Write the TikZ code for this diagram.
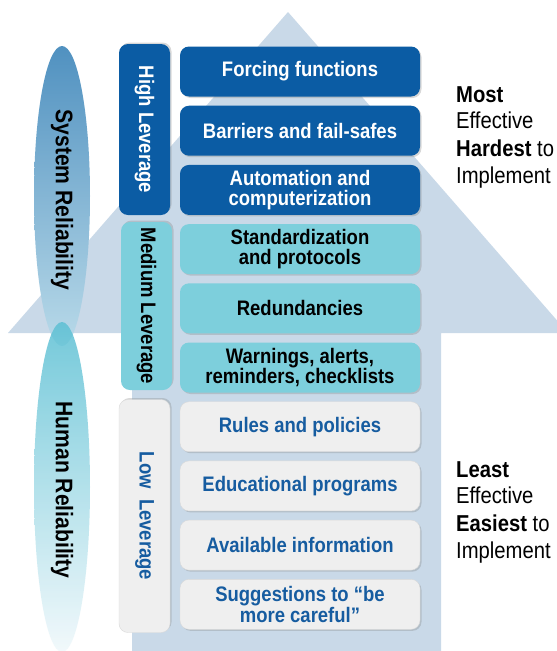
\documentclass[tikz,border=0pt]{standalone}
\usepackage{fontspec}
\setmainfont{Liberation Sans}[FakeStretch=0.88]
\usepackage{tikz}
\usetikzlibrary{positioning,shadows}
\usepackage{xcolor}
\definecolor{lvdark}{RGB}{11,92,164}
\definecolor{lvteal}{RGB}{125,207,220}
\definecolor{lvgray}{RGB}{239,239,239}
\definecolor{lvtext}{RGB}{22,92,160}
\definecolor{lvback}{RGB}{201,217,232}
\definecolor{sysTop}{RGB}{80,145,192}
\definecolor{sysBot}{RGB}{185,218,233}
\definecolor{humTop}{RGB}{92,192,212}
\definecolor{humBot}{RGB}{240,248,251}
\tikzstyle{tier} = [rectangle, rounded corners=9pt, minimum width=240pt, minimum height=50pt, text centered, align=center, font=\bfseries\fontsize{21}{20.5}\selectfont, drop shadow={shadow xshift=1.5pt, shadow yshift=-1.5pt, opacity=0.3}]
\tikzstyle{hightier} = [tier, fill=lvdark, text=white]
\tikzstyle{medtier} = [tier, fill=lvteal, text=black]
\tikzstyle{lowtier} = [tier, fill=lvgray, draw=black!15, text=lvtext]
\tikzstyle{lever} = [rectangle, rounded corners=9pt, rotate=-90, minimum height=51pt, text centered, font=\bfseries\fontsize{21}{21}\selectfont, drop shadow={shadow xshift=1.5pt, shadow yshift=1.5pt, opacity=0.3}]
\tikzstyle{reliab} = [rotate=-90, font=\bfseries\fontsize{24}{24}\selectfont]
\tikzstyle{sidebold} = [anchor=base west, inner sep=0pt, font=\bfseries\fontsize{23}{23}\selectfont]
\tikzstyle{sidelight} = [anchor=base west, inner sep=0pt, font=\fontsize{23}{23}\selectfont]

\begin{document}
\begin{tikzpicture}[x=1pt, y=-1pt, node distance=59.2pt]
\clip (0,0) rectangle (557,651);
\fill[white] (0,0) rectangle (557,651);

% Background arrow
\fill[lvback] (288,12) -- (568,333) -- (441,333) -- (441,651) -- (132,651) -- (132,333) -- (8,333) -- cycle;

% Reliability ellipses
\shade[top color=sysTop, bottom color=sysBot] (62,196) ellipse (28pt and 150pt);
\shade[top color=humTop, bottom color=humBot, opacity=0.85] (62,487) ellipse (28pt and 165pt);
\node (sysrel) [reliab] at (62,200) {System Reliability};
\node (humrel) [reliab] at (62,490) {Human Reliability};

% Leverage columns
\node (high) [lever, fill=lvdark, text=white, minimum width=171pt] at (144.5,129.5) {High Leverage};
\node (medium) [lever, fill=lvteal, text=black, minimum width=168pt] at (146.5,306) {Medium Leverage};
\node (low) [lever, fill=lvgray, draw=black!15, text=lvtext, minimum width=233pt] at (144.5,516) {Low~~Leverage};

% High leverage actions
\node (forcing) [hightier] at (300,71.5) {Forcing functions};
\node (barriers) [hightier, below of=forcing] {Barriers and fail-safes};
\node (automation) [hightier, below of=barriers] {Automation and\\computerization};

% Medium leverage actions
\node (standard) [medtier, below of=automation] {Standardization\\and protocols};
\node (redund) [medtier, below of=standard] {Redundancies};
\node (warnings) [medtier, below of=redund] {Warnings, alerts,\\reminders, checklists};

% Low leverage actions
\node (rules) [lowtier, below of=warnings] {Rules and policies};
\node (educ) [lowtier, below of=rules] {Educational programs};
\node (avail) [lowtier, below of=educ] {Available information};
\node (suggest) [lowtier, below of=avail] {Suggestions to ``be\\more careful''};

% Side labels
\node (most) [sidebold] at (456,102) {Most};
\node (mosteff) [sidelight] at (456,128) {Effective};
\node (hard) [sidelight] at (456,156) {\textbf{Hardest} to};
\node (hardimp) [sidelight] at (456,183) {Implement};
\node (least) [sidebold] at (456,477) {Least};
\node (leasteff) [sidelight] at (456,503) {Effective};
\node (easy) [sidelight] at (456,531) {\textbf{Easiest} to};
\node (easyimp) [sidelight] at (456,558) {Implement};
\end{tikzpicture}
\end{document}
